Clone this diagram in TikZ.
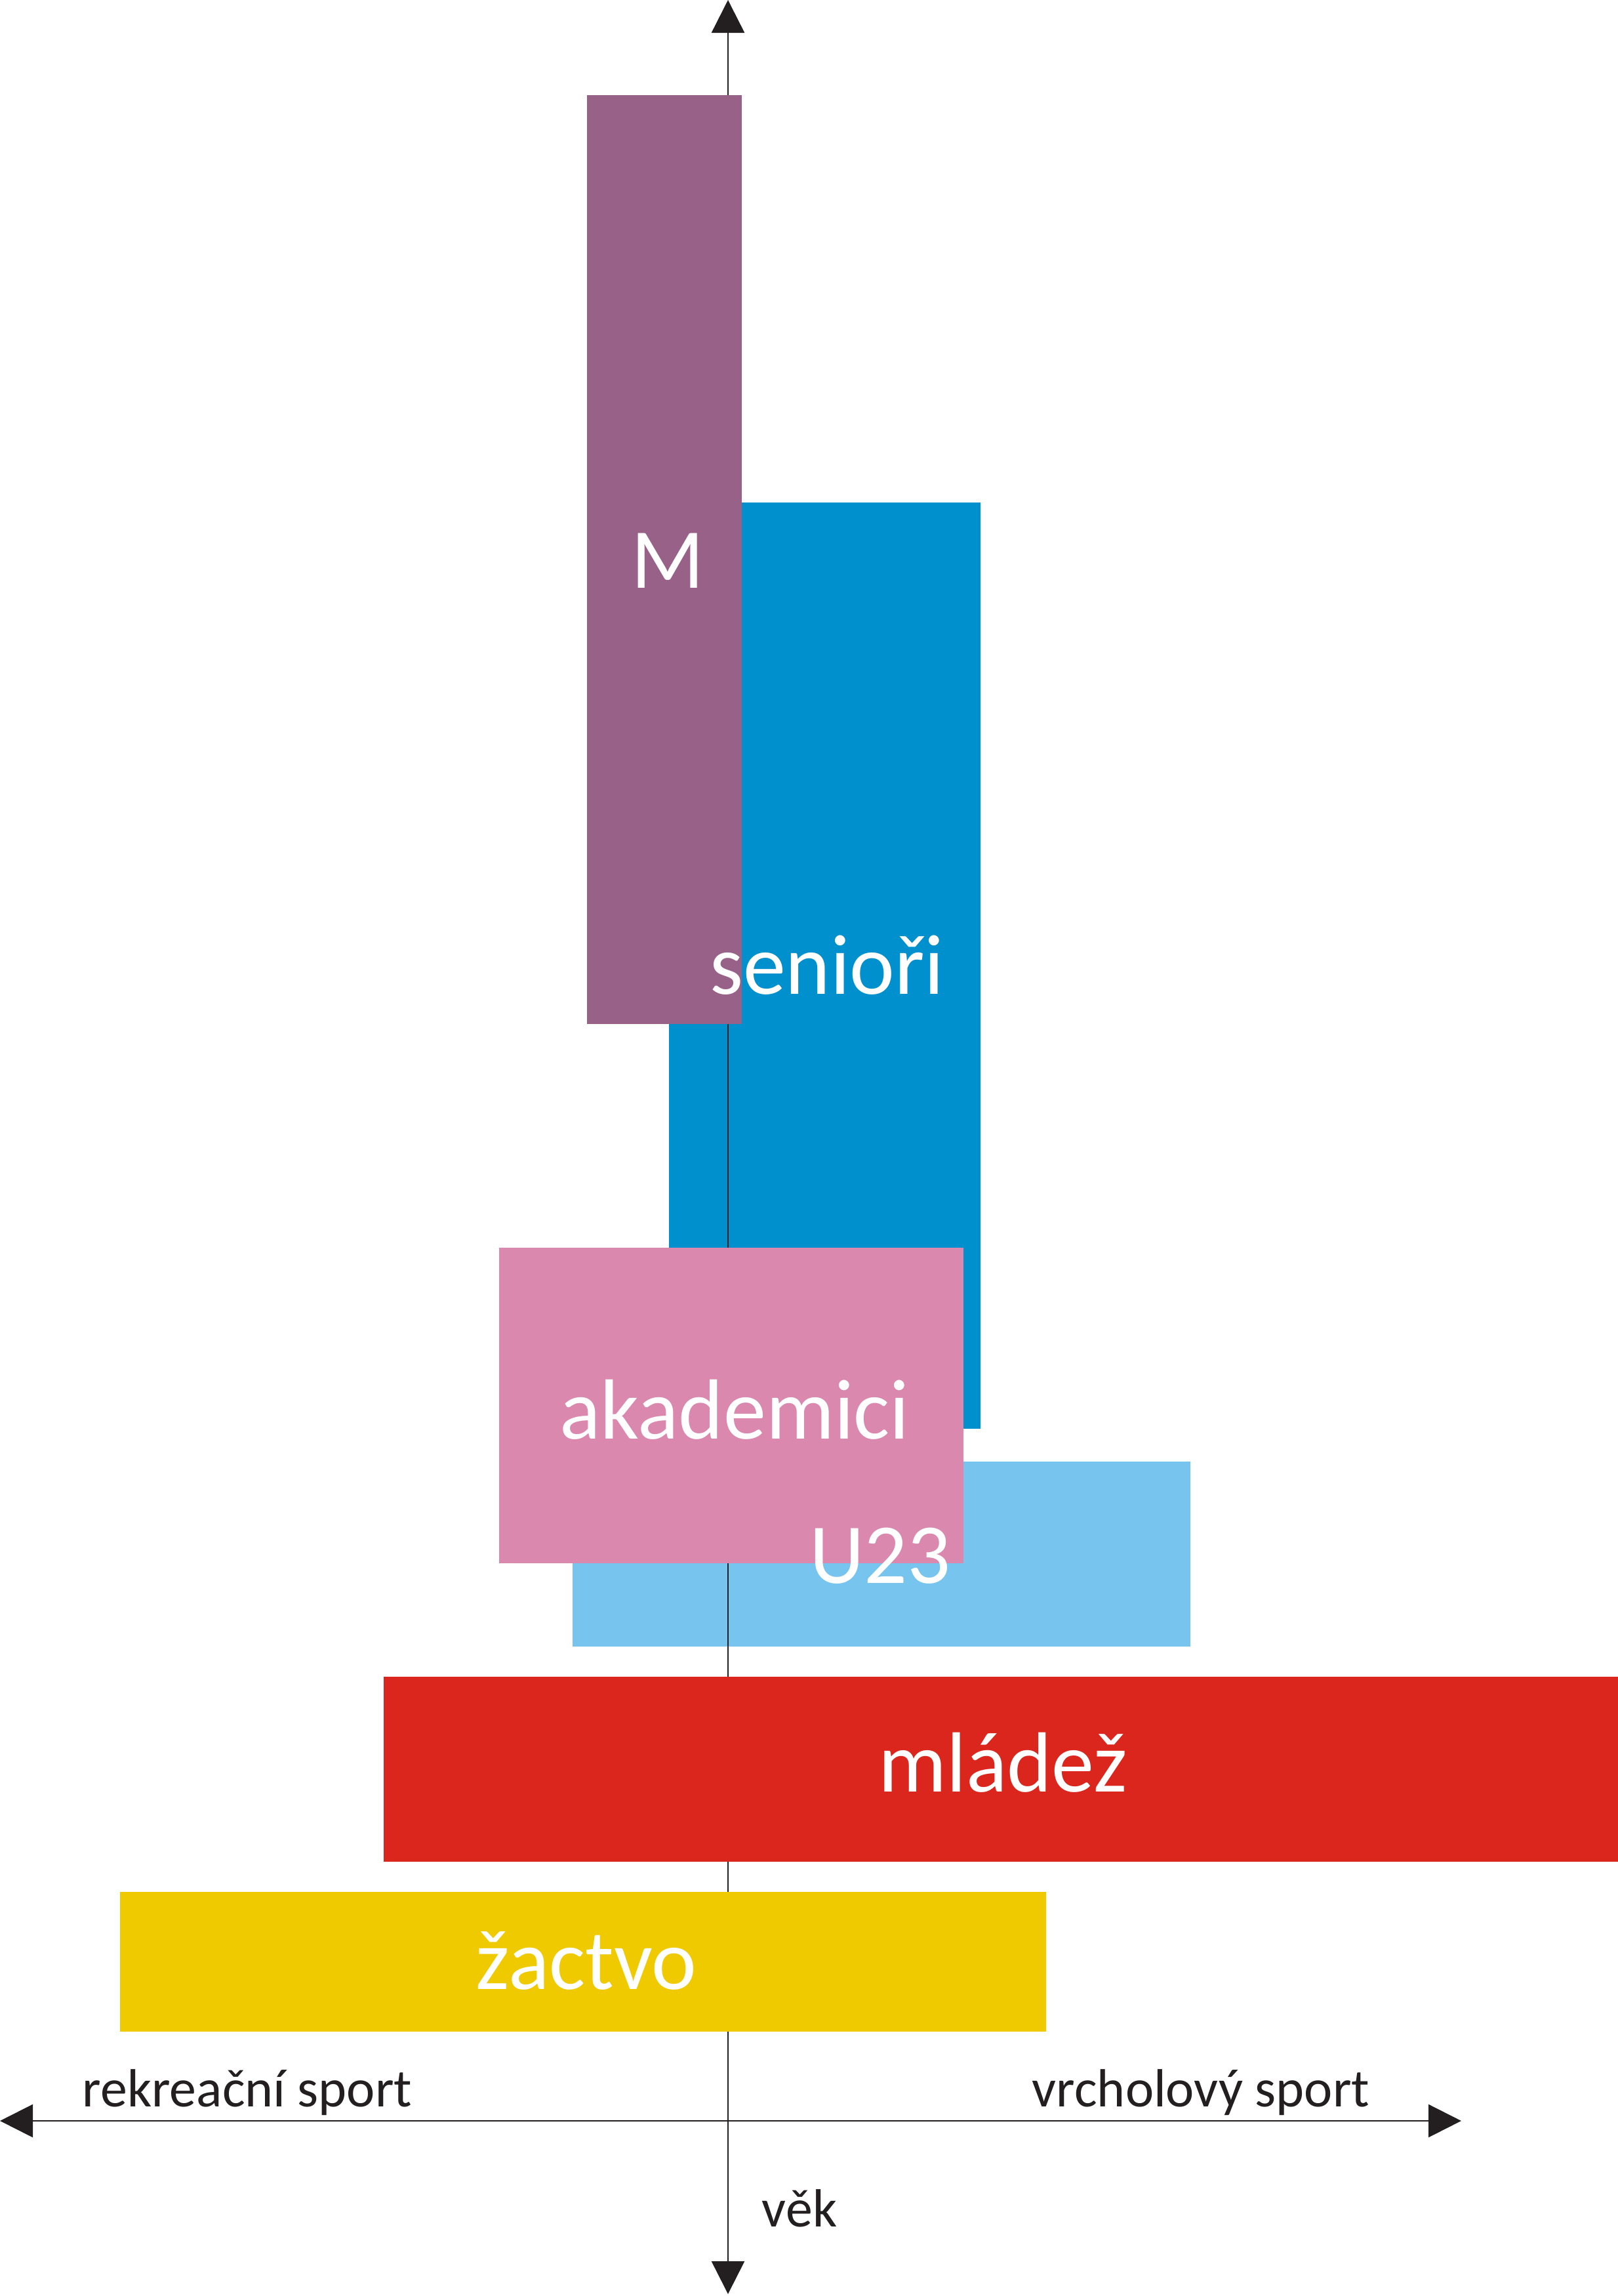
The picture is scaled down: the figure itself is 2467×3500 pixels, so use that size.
\documentclass[tikz,border=0pt]{standalone}
\usepackage{fontspec}
\setmainfont{Carlito}
\usetikzlibrary{arrows.meta}
\definecolor{masters}{HTML}{986187}
\definecolor{seniors}{HTML}{0090CD}
\definecolor{academics}{HTML}{DA88AE}
\definecolor{under23}{HTML}{77C4EF}
\definecolor{youth}{HTML}{DA261C}
\definecolor{pupils}{HTML}{F0CA00}
\definecolor{axisink}{HTML}{231F20}
\tikzset{
  axis/.style={axisink,line width=0.7pt,{Triangle[length=0.5cm,width=0.5cm]}-{Triangle[length=0.5cm,width=0.5cm]}},
  grouplabel/.style={white,inner sep=0pt,anchor=base,font=\fontsize{37}{40}\selectfont},
  axislabel/.style={axisink,inner sep=0pt,anchor=base,font=\fontsize{23.3}{26}\selectfont}
}
\begin{document}
\begin{tikzpicture}[x=0.01cm,y=-0.01cm]
 \useasboundingbox (0,0) rectangle (2467,3500);
 \coordinate (top) at (1110,0);
 \coordinate (bottom) at (1110,3497);
 \coordinate (left) at (0,3233);
 \coordinate (right) at (2228,3233);
 \fill[seniors](1020,766) rectangle (1495,2178);
 \fill[under23](873,2228) rectangle (1815,2510);
 \draw[axis](top)--(bottom);
 \draw[axis](left)--(right);
 \fill[academics](761,1902) rectangle (1469,2383);
 \fill[masters](895,145) rectangle (1131,1561);
 \fill[youth](585,2556) rectangle (2467,2838);
 \fill[pupils](183,2884) rectangle (1595,3097);
 \node[grouplabel] (mlabel) at (1018,896) {M};
 \node[grouplabel] (seniorlabel) at (1261,1515) {senioři};
 \node[grouplabel] (academiclabel) at (1120,2193) {akademici};
 \node[grouplabel] (u23label) at (1342,2413) {U23};
 \node[grouplabel] (youthlabel) at (1529,2731) {mládež};
 \node[grouplabel] (pupillabel) at (894,3032) {žactvo};
 \node[axislabel] (leisure) at (377,3211) {rekreační sport};
 \node[axislabel] (elite) at (1831,3211) {vrcholový sport};
 \node[axislabel] (age) at (1219,3394) {věk};
\end{tikzpicture}
\end{document}
